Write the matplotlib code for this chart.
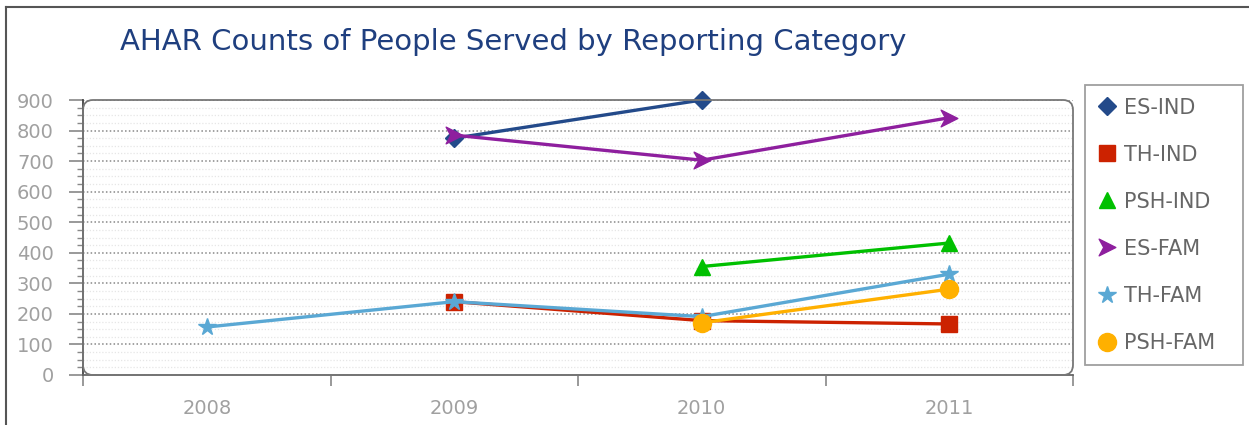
import matplotlib
matplotlib.use("Agg")
import matplotlib.pyplot as plt
from matplotlib.patches import FancyBboxPatch
from matplotlib.lines import Line2D
from matplotlib.path import Path as MPath
from matplotlib.transforms import IdentityTransform
import numpy as np

# --- data ---
years = ["2008", "2009", "2010", "2011"]
es_ind = [np.nan, 775, 900, np.nan]
th_ind = [np.nan, 240, 178, 167]
psh_ind = [np.nan, np.nan, 355, 432]
es_fam = [np.nan, 785, 703, 842]
th_fam = [157, 240, 191, 330]
psh_fam = [np.nan, np.nan, 171, 281]

# notched arrow head used for ES-FAM
arrow = MPath([(-1, 1), (1, 0), (-1, -1), (-0.45, 0), (-1, 1)],
              [1, 2, 2, 2, 79])

series = [
    ("ES-IND", es_ind, "#234a8a", "D", 9),
    ("TH-IND", th_ind, "#cc2200", "s", 11),
    ("PSH-IND", psh_ind, "#00c000", "^", 12),
    ("ES-FAM", es_fam, "#8e1f9e", arrow, 12),
    ("TH-FAM", th_fam, "#5aa8d4", "*", 13),
    ("PSH-FAM", psh_fam, "#ffb000", "o", 13),
]

W, H = 1249, 425
fig = plt.figure(figsize=(W / 100, H / 100), dpi=100)

# outer frame lines (top and left)
fig.add_artist(Line2D([6 / W, 1], [1 - 7 / H, 1 - 7 / H], color="#555555", lw=1.5))
fig.add_artist(Line2D([6 / W, 6 / W], [0, 1 - 7 / H], color="#555555", lw=1.5))

ax = fig.add_axes([83 / W, 1 - 375 / H, (1073 - 83) / W, (375 - 100) / H])

x = np.arange(len(years))
for name, vals, color, marker, ms in series:
    ax.plot(x, vals, color=color, lw=2.4, marker=marker, markersize=ms,
            markeredgecolor=color, label=name, clip_on=False, zorder=3)

ax.set_xlim(-0.5, 3.5)
ax.set_ylim(0, 900)

# category ticks at boundaries, labels centred
ax.set_xticks(np.arange(-0.5, 4, 1))
ax.set_xticklabels([])
ax.set_xticks(x, minor=True)
ax.set_xticklabels(years, minor=True)
ax.tick_params(axis="x", which="major", length=8, color="#888888", width=1.2)
ax.tick_params(axis="x", which="minor", length=0, pad=17, labelsize=14, labelcolor="#a0a0a0")

ax.set_yticks(np.arange(0, 901, 100))
ax.set_yticks(np.arange(0, 901, 25), minor=True)
ax.tick_params(axis="y", which="major", length=10, color="#888888", width=1.2,
               labelsize=14, labelcolor="#a0a0a0", pad=11)
ax.tick_params(axis="y", which="minor", length=4, color="#888888", width=1)

ax.grid(True, axis="y", which="major", color="#888888", lw=1.1, ls=(0, (1, 1.5)))
ax.grid(True, axis="y", which="minor", color="#e6e6e6", lw=0.9, ls=(0, (1, 1.5)))
ax.set_axisbelow(True)

for s in ["top", "right"]:
    ax.spines[s].set_visible(False)
ax.spines["left"].set_color("#444444")
ax.spines["bottom"].set_color("#666666")
ax.spines["left"].set_linewidth(1.3)
ax.spines["bottom"].set_linewidth(1.3)

# rounded plot frame, drawn in pixels
frame = FancyBboxPatch((83, H - 375), 990, 275,
                       boxstyle="round,pad=0,rounding_size=10",
                       transform=IdentityTransform(), fill=False, ec="#777777",
                       lw=1.3, zorder=1, clip_on=False)
fig.add_artist(frame)

fig.text(120 / W, 1 - 42 / H, "AHAR Counts of People Served by Reporting Category",
         fontsize=21, color="#1f3f7f", va="center", ha="left")

leg = fig.legend(loc="upper left",
                 bbox_to_anchor=(1085 / W, 60 / H, 158 / W, 280 / H),
                 mode="expand", frameon=True, fancybox=False, edgecolor="#888888",
                 fontsize=15, labelspacing=1.3, handlelength=0.9,
                 handletextpad=0.35, borderpad=0.6, borderaxespad=0)
for t in leg.get_texts():
    t.set_color("#666666")
for h in leg.legend_handles:
    h.set_linestyle("none")
leg.get_frame().set_linewidth(1.3)

fig.savefig("out.png", dpi=100)
